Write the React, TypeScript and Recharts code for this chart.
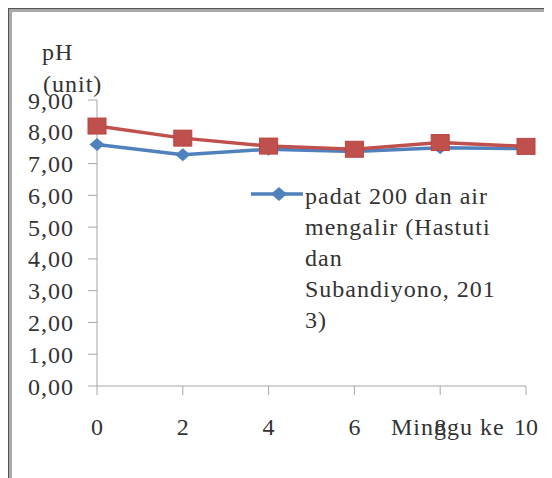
import React from 'react';
import { LineChart, Line, XAxis, YAxis, Legend } from 'recharts';

const weeks = [0, 2, 4, 6, 8, 10];
const phHastuti = [7.6, 7.28, 7.45, 7.38, 7.5, 7.47];
const phOther = [8.18, 7.8, 7.55, 7.45, 7.66, 7.54];
const yTicks = [0, 1, 2, 3, 4, 5, 6, 7, 8, 9];
const legendLines = ['padat 200 dan air', 'mengalir (Hastuti', 'dan', 'Subandiyono, 201', '3)'];
const yTitle = ['pH', '(unit)'];
const xTitle = 'Minggu ke';

const data = weeks.map((w, i) => ({ week: w, hastuti: phHastuti[i], other: phOther[i] }));

const FONT = '"Liberation Serif", "Times New Roman", serif';
const FS = 24;
const LS = 1;
const TEXT = '#333333';
const BLUE = '#4F81BD';
const RED = '#C0504D';
const AXIS = '#a6a6a6';

const Diamond = (props: any) => {
    const { cx, cy, index } = props;
    const rx = 7.5;
    const ry = 6.5;
    return <path key={`d-${index}`} d={`M${cx},${cy - ry}L${cx + rx},${cy}L${cx},${cy + ry}L${cx - rx},${cy}Z`} fill={BLUE} />;
};

const Square = (props: any) => {
    const { cx, cy, index } = props;
    const w = 18;
    const h = 16;
    return <rect key={`s-${index}`} x={cx - w / 2} y={cy - h / 2} width={w} height={h} fill={RED} stroke="#b94541" strokeWidth={1} />;
};

const LegendBox = () => (
    <svg width={300} height={160} style={{ display: 'block' }}>
        <line x1={0} y1={12} x2={52} y2={12} stroke={BLUE} strokeWidth={3.5} />
        <path d="M28,5L36,12L28,19L20,12Z" fill={BLUE} />
        {legendLines.map((l, i) => (
            <text key={i} x={54} y={22 + i * 31} fill={TEXT} fontFamily={FONT} fontSize={FS} letterSpacing={LS}>
                {l}
            </text>
        ))}
    </svg>
);

const YTitle = (props: any) => {
    const { viewBox } = props;
    const x = viewBox.x + 30;
    const y = viewBox.y - 40;
    return (
        <g>
            {yTitle.map((t, i) => (
                <text key={i} x={x + i} y={y + i * 32} fill={TEXT} fontFamily={FONT} fontSize={FS} letterSpacing={LS}>
                    {t}
                </text>
            ))}
        </g>
    );
};

const XTitle = (props: any) => {
    const { viewBox } = props;
    return (
        <text x={viewBox.x + viewBox.width - 135} y={viewBox.y + 49} fill={TEXT} fontFamily={FONT} fontSize={FS} letterSpacing={LS}>
            {xTitle}
        </text>
    );
};

const App = () => {
    return (
        <div style={{ borderTop: '1px solid #555', borderLeft: '1px solid #555', width: 544, height: 470, overflow: 'hidden' }}>
            <div style={{ borderTop: '3px solid #a8a8a8', borderLeft: '3px solid #a8a8a8' }}>
                <LineChart width={540} height={466} data={data} margin={{ top: 88, right: 26, left: 0, bottom: 42 }}>
                    <XAxis
                        dataKey="week"
                        type="number"
                        domain={[0, 10]}
                        ticks={weeks}
                        interval={0}
                        stroke={AXIS}
                        tickSize={9}
                        tickMargin={23}
                        height={50}
                        tick={{ fill: TEXT, fontFamily: FONT, fontSize: FS }}
                        label={<XTitle />}
                    />
                    <YAxis
                        type="number"
                        domain={[0, 9]}
                        ticks={yTicks}
                        interval={0}
                        width={85}
                        stroke={AXIS}
                        tickSize={9}
                        tickMargin={14}
                        tickFormatter={(v: number) => v.toFixed(2).replace('.', ',')}
                        tick={{ fill: TEXT, fontFamily: FONT, fontSize: FS, letterSpacing: LS }}
                        label={<YTitle />}
                    />
                    <Legend
                        content={<LegendBox />}
                        layout="horizontal"
                        verticalAlign="middle"
                        wrapperStyle={{ left: 239, top: 170, width: 300 }}
                    />
                    <Line dataKey="hastuti" stroke={BLUE} strokeWidth={3.5} dot={Diamond} isAnimationActive={false} />
                    <Line dataKey="other" stroke={RED} strokeWidth={3.5} dot={Square} legendType="none" isAnimationActive={false} />
                </LineChart>
            </div>
        </div>
    );
};

export default App;
